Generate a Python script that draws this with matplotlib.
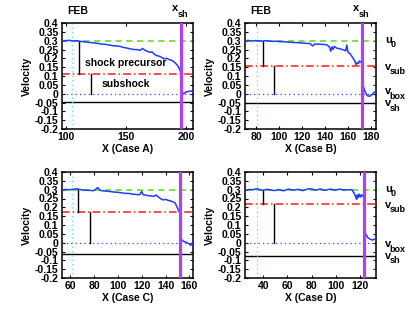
import matplotlib
matplotlib.use('Agg')
import matplotlib.pyplot as plt
from matplotlib.ticker import FuncFormatter

plt.rcParams['font.family'] = 'Liberation Sans'
plt.rcParams['font.weight'] = 'bold'

# --- data ---
xA = [97, 100, 103, 106, 109, 112, 115, 118, 121, 124, 127, 130, 133, 136, 139, 142,
      145, 148, 151, 154, 157, 160, 162, 164, 166, 168, 170, 172, 174, 176, 178, 180,
      182, 184, 186, 188, 190, 191, 192, 193, 194, 195, 195.6, 196.1, 196.6, 197, 197.5,
      198, 199, 200, 202, 204, 206]
vA = [0.300, 0.300, 0.302, 0.298, 0.300, 0.296, 0.294, 0.292, 0.289, 0.287, 0.284, 0.281,
      0.279, 0.276, 0.272, 0.270, 0.268, 0.262, 0.258, 0.253, 0.250, 0.249, 0.245, 0.256,
      0.246, 0.240, 0.234, 0.236, 0.222, 0.215, 0.212, 0.205, 0.197, 0.200, 0.193, 0.190,
      0.180, 0.176, 0.168, 0.160, 0.150, 0.135, 0.125, 0.080, 0.020, 0.004, -0.004,
      0.003, 0.002, 0.010, 0.012, 0.015, 0.012]

xB = [70, 73, 76, 79, 82, 85, 88, 91, 94, 97, 100, 103, 106, 109, 112, 115, 118, 121,
      124, 127, 129, 131, 134, 137, 140, 142, 144, 145, 146, 147, 148, 150, 152, 154,
      156, 158, 159, 160, 162, 164, 166, 167, 168, 169, 170, 171, 172, 172.6, 173.5,
      175, 177, 179, 181, 183, 184]
vB = [0.300, 0.301, 0.298, 0.300, 0.299, 0.297, 0.300, 0.298, 0.296, 0.297, 0.295, 0.294,
      0.293, 0.291, 0.290, 0.289, 0.288, 0.286, 0.285, 0.283, 0.270, 0.281, 0.280, 0.279,
      0.278, 0.275, 0.262, 0.240, 0.265, 0.250, 0.268, 0.258, 0.255, 0.252, 0.248, 0.242,
      0.275, 0.235, 0.225, 0.205, 0.185, 0.165, 0.175, 0.170, 0.185, 0.180, 0.175, 0.070,
      0.040, 0.010, -0.012, -0.015, -0.005, 0.008, 0.012]

xC = [53, 56, 59, 62, 65, 67, 70, 73, 76, 79, 81, 83, 85, 88, 91, 94, 97, 100, 103,
      106, 109, 112, 115, 118, 120, 121, 124, 127, 130, 132, 134, 136, 138, 140, 142,
      144, 146, 148, 150, 151, 152, 152.5, 154, 156, 158, 160, 161, 162, 163]
vC = [0.300, 0.301, 0.299, 0.302, 0.305, 0.303, 0.298, 0.297, 0.296, 0.294, 0.300, 0.312,
      0.296, 0.293, 0.291, 0.289, 0.286, 0.285, 0.282, 0.279, 0.279, 0.275, 0.273, 0.271,
      0.290, 0.272, 0.268, 0.265, 0.262, 0.270, 0.258, 0.248, 0.242, 0.245, 0.240, 0.236,
      0.232, 0.225, 0.195, 0.180, 0.170, 0.030, 0.012, 0.005, 0.000, -0.008, -0.015,
      -0.005, 0.000]

xD = [25, 27, 29, 31, 33, 35, 37, 39, 41, 43, 45, 47, 49, 51, 53, 55, 57, 59, 61, 63,
      65, 67, 69, 71, 73, 75, 77, 79, 81, 83, 85, 87, 89, 91, 93, 95, 97, 99, 101, 103,
      105, 107, 109, 111, 113, 114, 115, 116, 117, 117.5, 118, 119, 120, 121, 122, 123,
      123.5, 124.5, 126, 128, 130, 132, 133]
vD = [0.295, 0.298, 0.302, 0.298, 0.303, 0.306, 0.300, 0.296, 0.298, 0.302, 0.300, 0.297,
      0.295, 0.297, 0.301, 0.296, 0.294, 0.299, 0.303, 0.300, 0.297, 0.300, 0.302, 0.297,
      0.295, 0.300, 0.304, 0.306, 0.302, 0.297, 0.300, 0.304, 0.300, 0.296, 0.300, 0.303,
      0.301, 0.297, 0.300, 0.303, 0.300, 0.298, 0.300, 0.299, 0.300, 0.290, 0.280, 0.262,
      0.245, 0.270, 0.255, 0.275, 0.258, 0.272, 0.262, 0.270, 0.050, 0.050, 0.030, 0.020,
      0.015, 0.020, 0.022]

cases = ['A', 'B', 'C', 'D']
u0 = 0.3
v_sub = [0.111, 0.155, 0.175, 0.218]
v_sh = [-0.045, -0.055, -0.062, -0.074]
x_sh = [196, 172.5, 152, 123.3]
x_cyan = [105.5, 80.5, 61, 34.5]
x_seg1 = [111.5, 85.5, 66.5, 39.5]
x_seg2 = [121.5, 95.5, 76.5, 49]
xlims = [(97, 206), (70, 184.5), (53, 163), (25, 133)]
xticks = [[100, 150, 200], [80, 100, 120, 140, 160, 180],
          [60, 80, 100, 120, 140, 160], [40, 60, 80, 100, 120]]
yticks = [-0.2, -0.15, -0.1, -0.05, 0, 0.05, 0.1, 0.15, 0.2, 0.25, 0.3, 0.35, 0.4]
xs = [xA, xB, xC, xD]
vs = [vA, vB, vC, vD]

W, H = 415, 313
fig = plt.figure(figsize=(W / 100, H / 100), dpi=100)
# axes boxes in pixels: left, top, right, bottom
boxes = [(62, 23, 193, 129), (245, 23, 376, 129), (62, 172, 193, 278), (245, 172, 376, 278)]


def sub_label(ax, xy, coords, main, sub, dx, dy, sdx, sdy, ha_main='left'):
    # letter plus a lowered subscript, both in the bold sans font
    ax.annotate(main, xy=xy, xycoords=coords, xytext=(dx, dy), textcoords='offset points',
                ha=ha_main, va='baseline', fontsize=8, annotation_clip=False)
    ax.annotate(sub, xy=xy, xycoords=coords, xytext=(sdx, sdy), textcoords='offset points',
                ha='left', va='baseline', fontsize=6.5, annotation_clip=False)


fs = 7.5
for i, c in enumerate(cases):
    l, t, r, b = boxes[i]
    ax = fig.add_axes([l / W, 1 - b / H, (r - l) / W, (b - t) / H])
    ax.axhline(u0, color='#55dd11', ls=(0, (4, 3)), lw=1.1, zorder=2)
    ax.axhline(v_sub[i], color='#ff1a1a', ls=(0, (5, 2, 1, 2)), lw=1.1, zorder=2)
    ax.axhline(0, color='#3344ff', ls=(0, (1, 2.5)), lw=0.9, zorder=2)
    ax.axhline(v_sh[i], color='black', lw=1.0, zorder=2)
    ax.axvline(x_cyan[i], color='#55e8d8', ls=(0, (1, 2.5)), lw=0.9, zorder=2)
    ax.plot([x_seg1[i], x_seg1[i]], [u0, v_sub[i]], color='black', lw=1.0, zorder=3)
    ax.plot([x_seg2[i], x_seg2[i]], [v_sub[i], 0], color='black', lw=1.0, zorder=3)
    ax.plot(xs[i], vs[i], color='#1f3cff', lw=1.1, zorder=4)
    ax.axvline(x_sh[i], color='#b040f5', lw=2.3, zorder=5)

    ax.set_xlim(*xlims[i])
    ax.set_ylim(-0.2, 0.4)
    ax.set_xticks(xticks[i])
    ax.set_yticks(yticks)
    ax.yaxis.set_major_formatter(FuncFormatter(lambda v, p: '%g' % round(v, 2)))
    ax.tick_params(direction='in', top=True, right=True, length=2.5, width=0.8,
                   labelsize=fs, pad=2.5)
    for s in ax.spines.values():
        s.set_linewidth(1.1)
    ax.set_ylabel('Velocity', fontsize=7.5, fontweight='bold', labelpad=2)
    ax.set_xlabel('X (Case %s)' % c, fontsize=7.5, fontweight='bold', labelpad=1)

    if i < 2:
        ax.text(0.04, 1.11, 'FEB', transform=ax.transAxes, fontsize=7.5,
                fontweight='bold', ha='left', va='center')
        sub_label(ax, (x_sh[i], 0.4), 'data', 'x', 'sh', -2.2, 8.5, -2.6, 4.0,
                  ha_main='right')
    if i == 0:
        ax.text(150, 0.175, 'shock precursor', fontsize=7.5, fontweight='bold',
                ha='center', va='center')
        ax.text(150, 0.052, 'subshock', fontsize=7.5, fontweight='bold',
                ha='center', va='center')
    if i % 2 == 1:
        tr = ax.get_yaxis_transform()
        pos = (1.0, u0)
        sub_label(ax, (1.0, u0), tr, 'u', '0', 6.5, -2.0, 10.5, -4.5)
        sub_label(ax, (1.0, v_sub[i]), tr, 'v', 'sub', 6.5, -2.5, 10.0, -5.5)
        box_dy = 0.0 if i == 1 else -3.0
        sub_label(ax, (1.0, 0.0), tr, 'v', 'box', 6.5, box_dy, 10.0, box_dy - 3.5)
        sub_label(ax, (1.0, v_sh[i]), tr, 'v', 'sh', 6.5, -2.0, 10.0, -5.5)

fig.savefig('out.png', dpi=100)
